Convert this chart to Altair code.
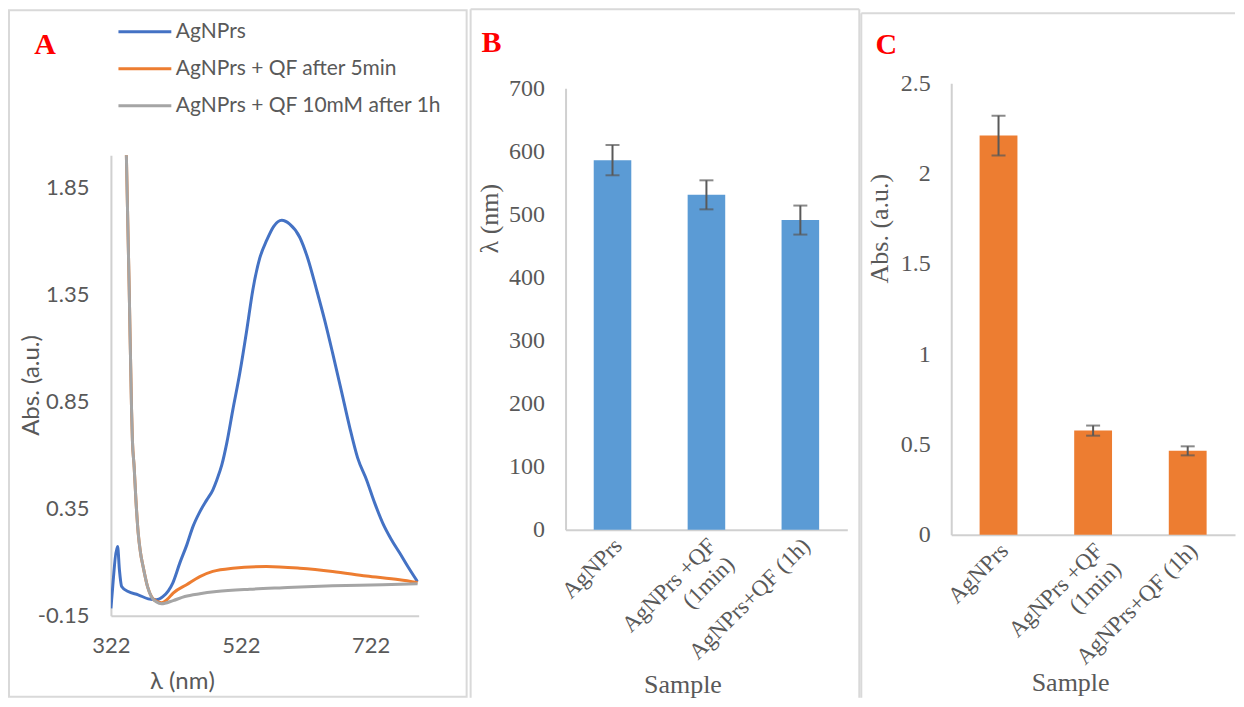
import altair as alt
import pandas as pd

# ---------------- Panel A : UV-Vis spectra ----------------
series_names = ["AgNPrs", "AgNPrs + QF after 5min", "AgNPrs + QF 10mM after 1h"]
series_colors = ["#4472C4", "#ED7D31", "#A5A5A5"]

blue_lam = [322, 323.1, 332.3, 335.1, 338.5, 348.6, 364.0, 379.4, 392.3, 402.0,
            417.4, 428.2, 438.9, 448.2, 458.9, 469.7, 478.9,
            485.1, 492.8, 500.5, 509.7, 520.5, 531.2, 540.5, 551.2, 562.0, 572.8,
            585.1, 597.4, 612.8, 625.1, 638.9, 651.2, 663.5, 677.4, 689.7, 702.0,
            715.8, 728.2, 740.5, 754.3, 766.6, 780.5, 794.3]
blue_abs = [-0.115, -0.075, 0.173, 0.064, -0.013, -0.037, -0.052, -0.071, -0.075, -0.061,
            0.004, 0.097, 0.181, 0.265, 0.335, 0.391, 0.437,
            0.484, 0.554, 0.657, 0.810, 0.983, 1.183, 1.370, 1.519, 1.603, 1.668,
            1.696, 1.678, 1.617, 1.519, 1.370, 1.230, 1.076, 0.894, 0.731, 0.587,
            0.484, 0.377, 0.284, 0.204, 0.144, 0.074, 0.009]

orange_lam = [345.8, 350.2, 353.8, 355.1, 357.8, 360.5, 364.0, 367.4, 371.7, 378.5,
              384.6, 392.3, 400.0, 408.2, 417.8, 438.5, 458.9, 478.9, 509.7,
              561.5, 612.8, 663.5, 715.4, 766.6, 794.3]
orange_abs = [2.000, 1.370, 0.810, 0.670, 0.545, 0.391, 0.237, 0.148, 0.078, -0.015,
              -0.061, -0.083, -0.089, -0.075, -0.044, -0.005, 0.033, 0.057, 0.072,
              0.080, 0.072, 0.057, 0.036, 0.018, 0.005]

gray_lam = [345.8, 350.2, 353.8, 355.1, 357.8, 360.5, 364.0, 367.4, 371.7, 378.5,
            384.6, 392.3, 400.0, 417.8, 435.8, 458.9, 484.6, 535.8,
            587.1, 663.5, 740.9, 794.3]
gray_abs = [2.000, 1.370, 0.810, 0.670, 0.545, 0.391, 0.237, 0.148, 0.078, -0.015,
            -0.063, -0.086, -0.094, -0.079, -0.060, -0.047, -0.037, -0.026,
            -0.019, -0.010, -0.005, 0.000]

x_ticks_A = [322, 522, 722]
y_ticks_A = [-0.15, 0.35, 0.85, 1.35, 1.85]

# ---------------- Panels B and C : bar charts ----------------
samples = ["AgNPrs", "AgNPrs +QF (1min)", "AgNPrs+QF (1h)"]
lambda_vals = [586, 531, 491]
lambda_err = [24, 23, 23]
abs_vals = [2.21, 0.577, 0.465]
abs_err = [0.11, 0.028, 0.025]

GRAY_TXT = "#595959"
AXIS_LINE = "#D0D0D0"
BORDER = "#D9D9D9"
SANS = "Lato"
SERIF = "Liberation Serif"
NB = "\u00a0"


def deco_rect(x1, x2, y1, y2, **kw):
    return alt.Chart(pd.DataFrame({"k": [0]})).mark_rect(**kw).encode(
        x=alt.value(x1), x2=alt.value(x2), y=alt.value(y1), y2=alt.value(y2))


def deco_rule(x1, x2, y1, y2):
    return alt.Chart(pd.DataFrame({"k": [0]})).mark_rule(color=BORDER, strokeWidth=2).encode(
        x=alt.value(x1), x2=alt.value(x2), y=alt.value(y1), y2=alt.value(y2))


def panel_letter(letter, x, y):
    return alt.Chart(pd.DataFrame({"t": [letter]})).mark_text(
        font=SERIF, fontWeight="bold", fontSize=30, color="#FF0000",
        align="center", baseline="middle").encode(text="t:N", x=alt.value(x), y=alt.value(y))


# ---- Panel A ----  (plot origin at page (111, 83); data area starts 72px lower)
rows = []
for name, lams, vals in zip(series_names, [blue_lam, orange_lam, gray_lam],
                            [blue_abs, orange_abs, gray_abs]):
    for l, v in zip(lams, vals):
        rows.append({"lam": l, "abs": v, "series": name})
dfA = pd.DataFrame(rows)

WA, HA = 308, 533
lines = alt.Chart(dfA).mark_line(strokeWidth=3, clip=True, interpolate="monotone").encode(
    x=alt.X("lam:Q", scale=alt.Scale(domain=[322, 796], nice=False, zero=False),
            axis=alt.Axis(values=x_ticks_A, title="λ (nm)", grid=False, ticks=False, tickSize=0,
                          domainColor=AXIS_LINE, domainWidth=2, labelFlush=False,
                          labelFont=SANS, labelFontSize=22, labelColor=GRAY_TXT, labelPadding=20,
                          titleFont=SANS, titleFontSize=24, titleColor=GRAY_TXT, titleFontWeight="normal",
                          titleX=71, titleY=66, titleAlign="center", titleBaseline="middle")),
    y=alt.Y("abs:Q", scale=alt.Scale(domain=[-0.15, 2.0], range=[HA, 72], nice=False, zero=False),
            axis=alt.Axis(values=y_ticks_A, title="Abs. (a.u.)", grid=False, ticks=False, tickSize=0,
                          domainColor=AXIS_LINE, domainWidth=2, labelFlush=False,
                          labelExpr="datum.value < 0 ? '-' + format(-datum.value, '.2f') : format(datum.value, '.2f')",
                          labelFont=SANS, labelFontSize=22, labelColor=GRAY_TXT, labelPadding=22,
                          titleFont=SANS, titleFontSize=24, titleColor=GRAY_TXT, titleFontWeight="normal",
                          titleX=-79, titleY=302, titleAlign="center", titleBaseline="middle")),
    color=alt.Color("series:N", scale=alt.Scale(domain=series_names, range=series_colors),
                    legend=alt.Legend(orient="none", legendX=6, legendY=-62, title=None,
                                      symbolType="stroke", symbolSize=2800, symbolStrokeWidth=3,
                                      labelFont=SANS, labelFontSize=21, labelColor=GRAY_TXT,
                                      labelLimit=400, labelOffset=3, rowPadding=15, clipHeight=21)),
)

panelA = alt.layer(
    deco_rect(-103, 359, -75, 615, opacity=0),
    deco_rect(-102, 356, -73, 614, fill="transparent", stroke=BORDER, strokeWidth=2),
    panel_letter("A", -66, -38),
    lines,
).properties(width=WA, height=HA)


# ---- Bar panels ----
def bar_panel(values, errs, color, ymax, yvals, ytitle, W, H, top, ytx, yty, xtx, xty,
              anchor, border_rules, letter_pos, letter):
    df = pd.DataFrame({"Sample": samples, "val": values, "err": errs})
    base = alt.Chart(df).transform_calculate(lo="datum.val - datum.err", hi="datum.val + datum.err")
    xscale = alt.Scale(domain=samples, paddingInner=0.6, paddingOuter=0.3)
    xaxis = alt.Axis(title="Sample", labelAngle=-45, labelAlign="right", labelBaseline="middle",
                     labelPadding=12, labelOffset=6, grid=False, ticks=False, tickSize=0,
                     domainColor=AXIS_LINE, domainWidth=2,
                     labelExpr="datum.label == 'AgNPrs +QF (1min)' ? ['AgNPrs +QF', '(1min)" + NB * 5 + "'] : datum.label",
                     labelFont=SERIF, labelFontSize=23, labelColor=GRAY_TXT, labelLineHeight=26,
                     titleFont=SERIF, titleFontSize=26, titleColor=GRAY_TXT, titleFontWeight="normal",
                     titleX=xtx, titleY=xty, titleAlign="center", titleBaseline="middle")
    yaxis = alt.Axis(values=yvals, title=ytitle, format="~r", grid=False, ticks=False, tickSize=0,
                     domainColor=AXIS_LINE, domainWidth=2,
                     labelFont=SERIF, labelFontSize=24, labelColor=GRAY_TXT, labelPadding=21,
                     titleFont=SERIF, titleFontSize=26, titleColor=GRAY_TXT, titleFontWeight="normal",
                     titleX=ytx, titleY=yty, titleAlign="center", titleBaseline="middle")
    yscale = alt.Scale(domain=[0, ymax], range=[H, top], nice=False)
    xenc = alt.X("Sample:N", sort=samples, scale=xscale, axis=xaxis)
    bars = base.mark_bar(color=color).encode(
        x=xenc, y=alt.Y("val:Q", scale=yscale, axis=yaxis))
    err = base.mark_rule(color="#595959", strokeWidth=2).encode(
        x=xenc, y=alt.Y("lo:Q", scale=yscale, axis=yaxis), y2="hi:Q")
    cap_lo = base.mark_tick(color="#595959", size=14, thickness=2).encode(
        x=xenc, y=alt.Y("lo:Q", scale=yscale, axis=yaxis))
    cap_hi = base.mark_tick(color="#595959", size=14, thickness=2).encode(
        x=xenc, y=alt.Y("hi:Q", scale=yscale, axis=yaxis))
    layers = [deco_rect(*anchor, opacity=0)]
    layers += [deco_rule(*r) for r in border_rules]
    layers += [panel_letter(letter, *letter_pos), bars, err, cap_lo, cap_hi]
    return alt.layer(*layers).properties(width=W, height=H)


# panel B: plot origin page (566, 83), data area top 5px lower, x axis at page 530
panelB = bar_panel(lambda_vals, lambda_err, "#5B9BD5", 700, [0, 100, 200, 300, 400, 500, 600, 700],
                   "λ (nm)", 282, 447, 5, -76, 135, 117, 155,
                   anchor=(-96, 295, -75, 615),
                   border_rules=[(-95, 294, -74, -74), (-95, -95, -74, 615), (294, 294, -74, 615)],
                   letter_pos=(-74, -40), letter="B")

# panel C: plot origin page (952, 83), x axis at page 535
panelC = bar_panel(abs_vals, abs_err, "#ED7D31", 2.5, [0, 0.5, 1, 1.5, 2, 2.5],
                   "Abs. (a.u.)", 284, 452, 0, -72, 145, 119, 148,
                   anchor=(-91, 284, -75, 615),
                   border_rules=[(-90, 284, -70, -70), (-90, -90, -70, 615)],
                   letter_pos=(-65, -38), letter="C")

chart = alt.hconcat(panelA, panelB, panelC, spacing=0).properties(
    padding=0, background="white"
).configure_view(strokeWidth=0)

chart.save("out.html", embed_options={"renderer": "svg", "actions": False})
